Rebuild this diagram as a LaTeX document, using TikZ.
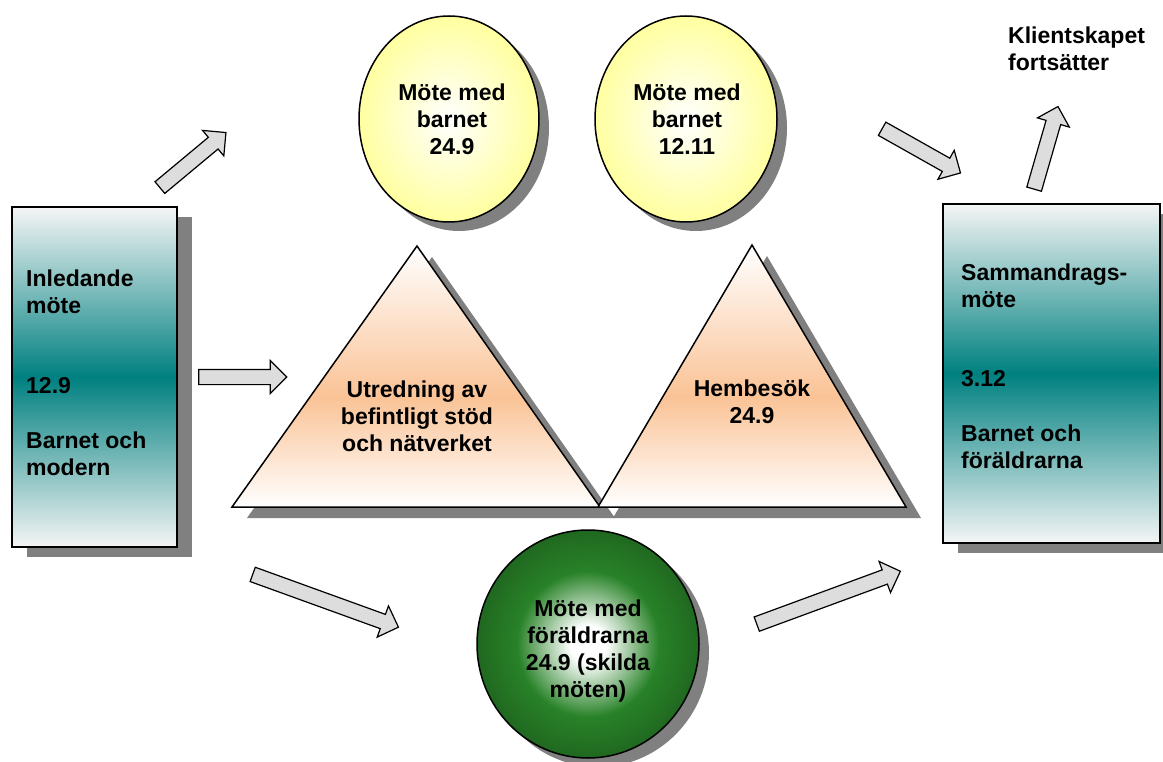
\documentclass[tikz,border=0pt]{standalone}
\usepackage{fontspec}
\setmainfont{Liberation Sans}
\usetikzlibrary{shapes.geometric,shapes.arrows,shadows}
\definecolor{boxteal}{RGB}{0,128,128}
\definecolor{peach}{RGB}{250,195,150}
\definecolor{meetyellow}{RGB}{255,255,160}
\definecolor{meetgreen}{RGB}{40,130,40}
\definecolor{arrowgray}{RGB}{221,221,221}
\definecolor{shadowgray}{RGB}{128,128,128}
\pgfdeclareverticalshading{tealband}{100bp}{color(0bp)=(white); color(25bp)=(white!96!black); color(50bp)=(boxteal); color(75bp)=(white!96!black); color(100bp)=(white)}
\pgfdeclareverticalshading{peachband}{100bp}{color(0bp)=(white); color(25bp)=(white); color(46bp)=(peach); color(75bp)=(white); color(100bp)=(white)}
\pgfdeclareradialshading{yellowglow}{\pgfpoint{0bp}{0bp}}{color(0bp)=(white); color(25bp)=(meetyellow); color(50bp)=(meetyellow)}
\pgfdeclareradialshading{greenglow}{\pgfpoint{0bp}{0bp}}{color(0bp)=(white); color(4bp)=(white); color(16bp)=(meetgreen); color(25bp)=(meetgreen!80!black); color(50bp)=(meetgreen!80!black)}

\begin{document}
\begin{tikzpicture}[
    x=1pt, y=-1pt,
    meettext/.style={font=\bfseries\fontsize{23}{27}\selectfont, align=center, inner sep=0pt},
    sidetext/.style={font=\bfseries\fontsize{23}{27}\selectfont, align=left, inner sep=0pt, anchor=north west},
    notebox/.style={rectangle, draw, line width=2pt, shading=tealband,
                    drop shadow={shadow xshift=15pt, shadow yshift=-10pt, fill=shadowgray, opacity=1}},
    meetcircle/.style={ellipse, draw, line width=1.5pt, inner sep=0pt,
                       drop shadow={shadow xshift=10pt, shadow yshift=-9pt, fill=shadowgray, opacity=1}},
    hillshape/.style={draw, line width=1.5pt, line join=miter, shading=peachband},
    blockarrow/.style={single arrow, draw, fill=arrowgray, line width=1.2pt, inner sep=7pt,
                       single arrow head extend=9pt, minimum width=0pt, line join=miter}
]
\useasboundingbox (0,0) rectangle (1163,762);

% side boxes
\node[notebox, minimum width=165, minimum height=340] (inbox)  at (94.5,377)   {};
\node[notebox, minimum width=217, minimum height=339] (sumbox) at (1051.5,373.5) {};

% meetings
\node[meetcircle, shading=yellowglow, minimum width=180, minimum height=206] (child1) at (449,119) {};
\node[meetcircle, shading=yellowglow, minimum width=182, minimum height=206] (child2) at (686,119) {};
\node[meetcircle, shading=greenglow,  minimum width=222, minimum height=228] (parents) at (588,644) {};

% the two triangles
\coordinate (utop)   at (417,246);
\coordinate (uleft)  at (232,507);
\coordinate (uright) at (600,507);
\coordinate (htop)   at (752,245);
\coordinate (hleft)  at (598,507);
\coordinate (hright) at (906,507);
\fill[shadowgray] ([shift={(15,11)}]utop) -- ([shift={(15,11)}]uleft) -- ([shift={(15,11)}]uright) -- cycle;
\path[hillshape] (utop) -- (uleft) -- (uright) -- cycle;
\fill[shadowgray] ([shift={(15,11)}]htop) -- ([shift={(15,11)}]hleft) -- ([shift={(15,11)}]hright) -- cycle;
\path[hillshape] (htop) -- (hleft) -- (hright) -- cycle;

% texts
\node[sidetext] (inboxtext)  at (26,270)  {Inledande\\möte\\[53pt]12.9\\[28pt]Barnet och\\modern};
\node[sidetext] (sumboxtext) at (961,264) {Sammandrags-\\möte\\[52pt]3.12\\[28pt]Barnet och\\föräldrarna};
\node[sidetext] (continuetext) at (1008,27) {Klientskapet\\fortsätter};
\node[meettext] (child1text)  at (452,119) {Möte med\\barnet\\24.9};
\node[meettext] (child2text)  at (687,119) {Möte med\\barnet\\12.11};
\node[meettext] (parentstext) at (588,651) {Möte med\\föräldrarna\\24.9 (skilda\\möten)};
\node[meettext] (supporttext) at (417,416) {Utredning av\\befintligt stöd\\och nätverket};
\node[meettext] (hometext)    at (752,402) {Hembesök\\24.9};

% block arrows
\node[blockarrow, minimum height=86,  rotate=39.8]  (arrowchild)   at (190,162.5) {};
\node[blockarrow, minimum height=88,  rotate=0]     (arrowsupport) at (239,377)   {};
\node[blockarrow, minimum height=155, rotate=-19.9] (arrowparents) at (322,599.5) {};
\node[blockarrow, minimum height=153, rotate=20.2]  (arrowsumlow)  at (825,599)   {};
\node[blockarrow, minimum height=90,  rotate=-29.4] (arrowsumhigh) at (918,149)   {};
\node[blockarrow, minimum height=86,  rotate=73.9]  (arrowcont)    at (1045,151.5) {};

\end{tikzpicture}
\end{document}
